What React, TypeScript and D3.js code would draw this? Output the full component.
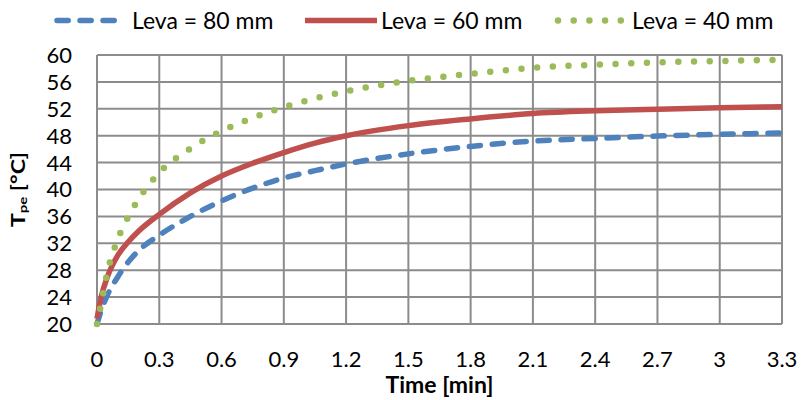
import React from "react";
import * as d3 from "d3";

const width = 801;
const height = 400;
const plot = { left: 97, right: 782, top: 55, bottom: 324 };

// time axis [min]
const timeMin = [0, 0.02, 0.05, 0.1, 0.15, 0.2, 0.3, 0.45, 0.6, 0.75, 0.9, 1.05, 1.2, 1.5, 1.8, 2.1, 2.4, 2.7, 3.0, 3.3];

// Tpe [°C] per cam length
const leva80 = [20.0, 22.0, 24.3, 27.0, 29.2, 30.9, 33.2, 36.0, 38.3, 40.2, 41.7, 42.8, 43.8, 45.3, 46.4, 47.2, 47.6, 47.95, 48.2, 48.4];
const leva60 = [20.8, 24.0, 27.0, 30.2, 32.2, 33.8, 36.3, 39.5, 42.0, 43.9, 45.5, 46.9, 48.0, 49.5, 50.5, 51.3, 51.7, 51.95, 52.15, 52.3];
const leva40 = [20.0, 23.0, 27.7, 32.6, 35.9, 38.55, 42.5, 46.1, 48.7, 50.65, 52.25, 53.55, 54.6, 56.15, 57.2, 58.1, 58.55, 58.9, 59.1, 59.3];

const seriesNames = ["Leva = 80 mm", "Leva = 60 mm", "Leva = 40 mm"];
const seriesColors = ["#4F81BD", "#C0504D", "#9BBB59"];

const xTicks = [0, 0.3, 0.6, 0.9, 1.2, 1.5, 1.8, 2.1, 2.4, 2.7, 3, 3.3];
const yTicks = [20, 24, 28, 32, 36, 40, 44, 48, 52, 56, 60];

const x = d3.scaleLinear().domain([0, 3.3]).range([plot.left, plot.right]);
const y = d3.scaleLinear().domain([20, 60]).range([plot.bottom, plot.top]);

const lineGen = d3
  .line<number>()
  .x((d, i) => x(timeMin[i]))
  .y((d) => y(d))
  .curve(d3.curveMonotoneX);

// stroke styles: dashed, solid, round dots
const strokeStyles = [
  { width: 5.5, dash: "11.2 11.8", cap: "round" },
  { width: 5.5, dash: "", cap: "butt" },
  { width: 6.5, dash: "0 15.7", cap: "round" },
];

const legendX = [57, 305, 558];
const legendLen = [60, 72, 63];
const legendTextX = [132, 381, 632];

const font = "Lato, 'Open Sans', sans-serif";

export default function App() {
  const series = [leva80, leva60, leva40];
  return (
    <svg
      width={width}
      height={height}
      style={{ position: "absolute", left: 0, top: 0, background: "#fff" }}
      fontFamily={font}
    >
      {/* grid */}
      {yTicks.map((t) => (
        <line
          key={`gy${t}`}
          x1={plot.left}
          x2={plot.right}
          y1={y(t)}
          y2={y(t)}
          stroke="#8c8c8c"
          strokeWidth={2}
        />
      ))}
      {xTicks.map((t) => (
        <line
          key={`gx${t}`}
          x1={x(t)}
          x2={x(t)}
          y1={plot.top}
          y2={plot.bottom}
          stroke="#8c8c8c"
          strokeWidth={2}
        />
      ))}

      {/* series */}
      {series.map((s, i) => (
        <path
          key={`s${i}`}
          d={lineGen(s) || ""}
          fill="none"
          stroke={seriesColors[i]}
          strokeWidth={strokeStyles[i].width}
          strokeDasharray={strokeStyles[i].dash || undefined}
          strokeLinecap={strokeStyles[i].cap as any}
          strokeLinejoin="round"
        />
      ))}

      {/* tick labels */}
      {yTicks.map((t) => (
        <text
          key={`ly${t}`}
          x={72}
          y={y(t)}
          dy="0.36em"
          textAnchor="end"
          fontSize={22}
          fill="#000"
        >
          {t}
        </text>
      ))}
      {xTicks.map((t) => (
        <text
          key={`lx${t}`}
          x={x(t)}
          y={367}
          textAnchor="middle"
          fontSize={22}
          fill="#000"
        >
          {t}
        </text>
      ))}

      {/* axis titles */}
      <text
        x={(plot.left + plot.right) / 2}
        y={393}
        textAnchor="middle"
        fontSize={23}
        fontWeight="bold"
      >
        Time [min]
      </text>
      <text
        transform={`translate(25, ${(plot.top + plot.bottom) / 2}) rotate(-90) scale(1, 0.8)`}
        textAnchor="middle"
        fontSize={23}
        fontWeight="bold"
      >
        T
        <tspan fontSize={15} dy={2}>
          pe
        </tspan>
        <tspan dy={-2}> [°C]</tspan>
      </text>

      {/* legend */}
      {seriesNames.map((name, i) => (
        <g key={`lg${i}`}>
          <line
            x1={legendX[i]}
            x2={legendX[i] + legendLen[i]}
            y1={20.5}
            y2={20.5}
            stroke={seriesColors[i]}
            strokeWidth={strokeStyles[i].width}
            strokeDasharray={strokeStyles[i].dash || undefined}
            strokeLinecap={strokeStyles[i].cap as any}
          />
          <text x={legendTextX[i]} y={28.5} fontSize={23} fill="#000">
            {name}
          </text>
        </g>
      ))}
    </svg>
  );
}
